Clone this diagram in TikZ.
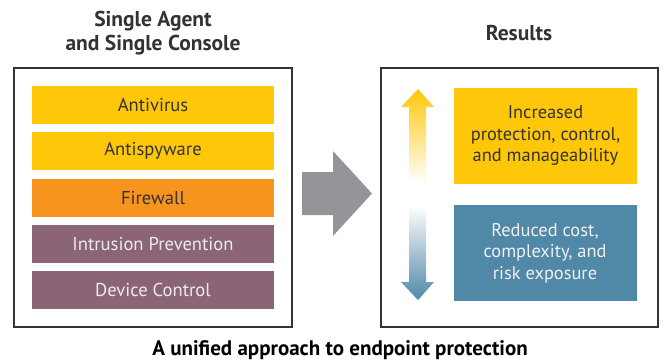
\documentclass[tikz,border=0pt]{standalone}
\usepackage{fontspec}
\setmainfont{PT Sans}
\definecolor{syel}{HTML}{FFC709}
\definecolor{sorg}{HTML}{F7941D}
\definecolor{spur}{HTML}{8C6478}
\definecolor{sblu}{HTML}{5088A8}
\definecolor{sgry}{HTML}{939598}
\definecolor{stxt}{HTML}{333333}
\begin{document}
\begin{tikzpicture}[x=1pt,y=-1pt,
  frame/.style={draw=stxt,line width=1.3pt,fill=white},
  bar/.style={minimum width=242pt,minimum height=38pt,inner sep=0pt,font=\fontsize{18.6}{20}\selectfont},
  ybar/.style={bar,fill=syel,text=stxt},
  obar/.style={bar,fill=sorg,text=stxt},
  pbar/.style={bar,fill=spur,text=white!92!black},
  res/.style={minimum width=183pt,minimum height=96pt,inner sep=0pt,align=center,font=\fontsize{18.4}{21.5}\selectfont},
  title/.style={font=\bfseries\fontsize{21.5}{24.5}\selectfont,text=stxt,align=center}]
\useasboundingbox (0,0) rectangle (663,360);
\fill[white] (0,0) rectangle (663,360);
% titles
\node[title] (t1) at (153,33) {Single Agent\\and Single Console};
\node[title] (t2) at (519,33) {Results};
% left frame
\node[frame,minimum width=278pt,minimum height=259pt,inner sep=0pt] (lf) at (153,197.5) {};
\node[ybar] (av) at (153,105) {Antivirus};
\node[ybar] (as) at (153,151) {Antispyware};
\node[obar] (fw) at (153,198) {Firewall};
\node[pbar] (ip) at (153,244) {Intrusion Prevention};
\node[pbar] (dc) at (153,290) {Device Control};
% right frame
\node[frame,minimum width=277pt,minimum height=259pt,inner sep=0pt] (rf) at (519.5,197.5) {};
\node[res,fill=syel,text=stxt] (r1) at (545.5,136) {Increased\\protection, control,\\and manageability};
\node[res,fill=sblu,text=white!94!black] (r2) at (545,253) {Reduced cost,\\complexity, and\\risk exposure};
% gray arrow
\fill[sgry] (302,172) -- (333,172) -- (333,151) -- (372,193.5) -- (333,236) -- (333,215) -- (302,215) -- cycle;
% up arrow
\shade[top color=syel,bottom color=white] (418,89) -- (434,107) -- (426,107) -- (426,184) -- (409,184) -- (409,107) -- (401,107) -- cycle;
% down arrow
\shade[top color=white,bottom color=sblu] (409,205) -- (426,205) -- (426,282) -- (434,282) -- (418,300) -- (401,282) -- (409,282) -- cycle;
% caption
\node[font=\bfseries\fontsize{21}{24}\selectfont,text=black] (cap) at (340,350) {A unified approach to endpoint protection};
\end{tikzpicture}
\end{document}
